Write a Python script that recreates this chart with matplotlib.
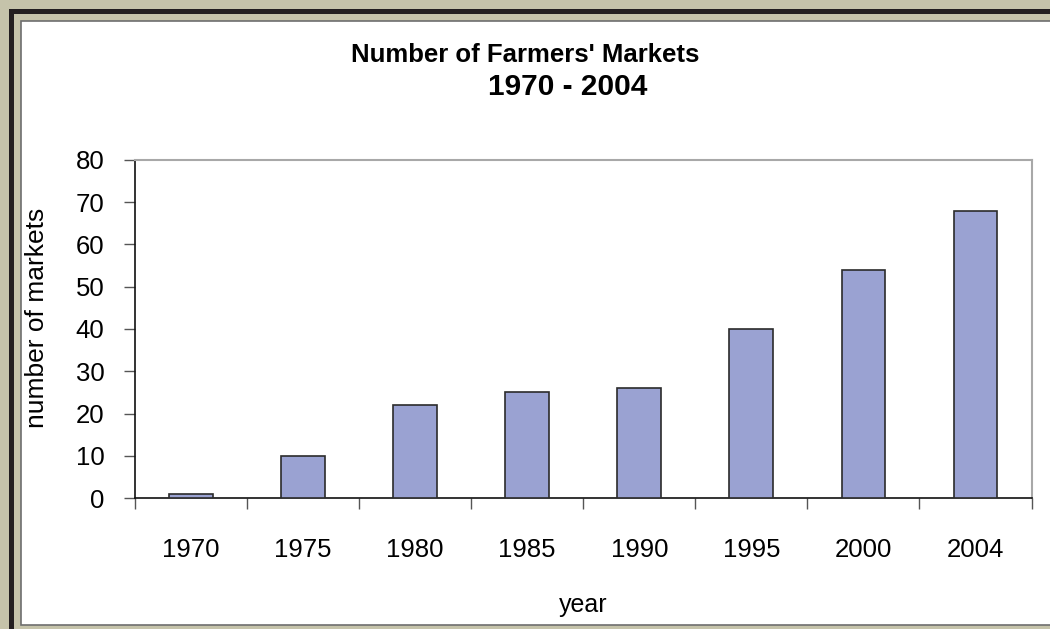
import matplotlib.pyplot as plt
import numpy as np
from matplotlib.patches import Rectangle

years = ['1970', '1975', '1980', '1985', '1990', '1995', '2000', '2004']
markets = [1, 10, 22, 25, 26, 40, 54, 68]

plt.rcParams['font.family'] = ['Liberation Sans', 'DejaVu Sans']

W, H = 1050, 629
fig = plt.figure(figsize=(W / 100, H / 100), dpi=100, facecolor='#c5c3aa')

# frame: dark band, then beige gap, then the white chart area
fig.patches.append(Rectangle((9 / W, -0.1), 1.2, 1 - 9 / H + 0.1, transform=fig.transFigure,
                             facecolor='#231f20', edgecolor='none', zorder=-3))
fig.patches.append(Rectangle((14 / W, -0.1), 1.2, 1 - 14 / H + 0.1, transform=fig.transFigure,
                             facecolor='#c5c3aa', edgecolor='none', zorder=-2))
fig.patches.append(Rectangle((21 / W, 4 / H), 1.2, 1 - 25 / H, transform=fig.transFigure,
                             facecolor='white', edgecolor='#6e6e6e', linewidth=1.2, zorder=-1))

ax = fig.add_axes([135 / W, 1 - 498 / H, (1031.5 - 135) / W, (498 - 160) / H])
ax.set_facecolor('none')

x = np.arange(len(years))
ax.bar(x, markets, width=0.39, color='#9aa2d2', edgecolor='#2b2b2b', linewidth=1.2, zorder=3)

ax.set_xlim(-0.5, len(years) - 0.5)
ax.set_ylim(0, 80)
ax.set_yticks(np.arange(0, 81, 10))
ax.set_xticks(x)
ax.set_xticklabels(years)
ax.set_xticks(np.arange(-0.5, len(years)), minor=True)
ax.tick_params(axis='x', which='major', length=0, pad=29, labelsize=18.5)
ax.tick_params(axis='x', which='minor', length=8, width=1, color='#555555', direction='out')
ax.tick_params(axis='y', length=8, width=1, color='#555555', labelsize=18.5, pad=14)

for s in ['left', 'bottom']:
    ax.spines[s].set_color('#111111')
    ax.spines[s].set_linewidth(1.2)
for s in ['top', 'right']:
    ax.spines[s].set_color('#a8a8a8')
    ax.spines[s].set_linewidth(1.5)

ax.set_xlabel('year', fontsize=18, labelpad=22)
fig.text(37 / W, 1 - 318 / H, 'number of markets', rotation=90, ha='center', va='center', fontsize=19)

fig.text(525 / W, 1 - 62 / H, "Number of Farmers' Markets", ha='center', va='baseline',
         fontsize=18.5, fontweight='bold')
fig.text(568 / W, 1 - 95 / H, "1970 - 2004", ha='center', va='baseline',
         fontsize=21.5, fontweight='bold')

plt.savefig('out.png', dpi=100, facecolor=fig.get_facecolor())
